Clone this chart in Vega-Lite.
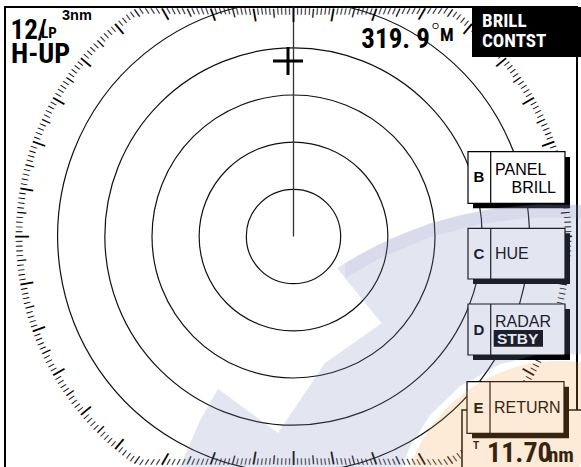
{
"$schema":"https://vega.github.io/schema/vega-lite/v6.json",
"width":581,"height":467,"padding":0,"autosize":{"type":"none"},"background":"white",
"config":{"view":{"stroke":null}},
"datasets":{
"frame":[{"x1":-3.0584,"x2":3.0054,"y1":2.433,"y2":-2.79}],
"rings":[{"r":0.5,"t1":0,"t2":360},{"r":1,"t1":0,"t2":360},{"r":1.5,"t1":0,"t2":360},{"r":2,"t1":0,"t2":360},{"r":2.5,"t1":13.3,"t2":346.7}],
"heading":[{"x":0,"y1":0,"y2":2.433}],
"cursor":[{"x":-0.0583,"y":1.8605}],
"ticks":[{"b":0,"r":2.422},{"b":1,"r":2.422},{"b":2,"r":2.423},{"b":3,"r":2.425},{"b":4,"r":2.428},{"b":5,"r":2.431},{"b":6,"r":2.435},{"b":7,"r":2.44},{"b":8,"r":2.446},{"b":9,"r":2.452},{"b":10,"r":2.459},{"b":11,"r":2.467},{"b":12,"r":2.476},{"b":13,"r":2.486},{"b":14,"r":2.496},{"b":15,"r":2.507},{"b":16,"r":2.52},{"b":17,"r":2.533},{"b":18,"r":2.547},{"b":19,"r":2.562},{"b":20,"r":2.577},{"b":21,"r":2.594},{"b":22,"r":2.612},{"b":23,"r":2.631},{"b":24,"r":2.651},{"b":25,"r":2.672},{"b":26,"r":2.695},{"b":27,"r":2.718},{"b":28,"r":2.743},{"b":29,"r":2.769},{"b":30,"r":2.797},{"b":31,"r":2.826},{"b":32,"r":2.856},{"b":33,"r":2.888},{"b":34,"r":2.921},
{"b":35,"r":2.947},{"b":36,"r":2.947},{"b":37,"r":2.947},{"b":38,"r":2.947},{"b":39,"r":2.947},{"b":40,"r":2.947},{"b":41,"r":2.947},{"b":42,"r":2.947},{"b":43,"r":2.947},{"b":44,"r":2.947},{"b":45,"r":2.947},{"b":46,"r":2.947},{"b":47,"r":2.947},{"b":48,"r":2.947},{"b":49,"r":2.947},{"b":50,"r":2.947},{"b":51,"r":2.947},{"b":52,"r":2.947},{"b":53,"r":2.947},{"b":54,"r":2.947},{"b":55,"r":2.947},{"b":56,"r":2.947},{"b":57,"r":2.947},{"b":58,"r":2.947},{"b":59,"r":2.947},{"b":60,"r":2.947},{"b":61,"r":2.947},{"b":62,"r":2.947},{"b":63,"r":2.947},{"b":64,"r":2.947},{"b":65,"r":2.947},{"b":66,"r":2.947},{"b":67,"r":2.947},{"b":68,"r":2.947},{"b":69,"r":2.947},{"b":70,"r":2.947},{"b":71,"r":2.947},{"b":72,"r":2.947},{"b":73,"r":2.947},{"b":74,"r":2.947},{"b":75,"r":2.947},{"b":76,"r":2.947},{"b":77,"r":2.947},{"b":78,"r":2.947},{"b":79,"r":2.947},{"b":80,"r":2.947},{"b":81,"r":2.947},{"b":82,"r":2.947},{"b":83,"r":2.947},{"b":84,"r":2.947},{"b":85,"r":2.947},{"b":86,"r":2.947},{"b":87,"r":2.947},{"b":88,"r":2.947},{"b":89,"r":2.947},{"b":90,"r":2.947},{"b":91,"r":2.947},{"b":92,"r":2.947},{"b":93,"r":2.947},{"b":94,"r":2.947},{"b":95,"r":2.947},{"b":96,"r":2.947},{"b":97,"r":2.947},{"b":98,"r":2.947},{"b":99,"r":2.947},{"b":100,"r":2.947},{"b":101,"r":2.947},{"b":102,"r":2.947},{"b":103,"r":2.947},{"b":104,"r":2.947},{"b":105,"r":2.947},{"b":106,"r":2.947},{"b":107,"r":2.947},{"b":108,"r":2.947},{"b":109,"r":2.947},{"b":110,"r":2.947},{"b":111,"r":2.947},{"b":112,"r":2.947},{"b":113,"r":2.947},{"b":114,"r":2.947},{"b":115,"r":2.947},{"b":116,"r":2.947},{"b":117,"r":2.947},{"b":118,"r":2.947},{"b":119,"r":2.947},{"b":120,"r":2.947},{"b":121,"r":2.947},{"b":122,"r":2.947},{"b":123,"r":2.947},{"b":124,"r":2.947},{"b":125,"r":2.947},{"b":126,"r":2.947},{"b":127,"r":2.947},{"b":128,"r":2.947},{"b":129,"r":2.947},{"b":130,"r":2.947},{"b":131,"r":2.947},{"b":132,"r":2.947},{"b":133,"r":2.947},{"b":134,"r":2.947},{"b":135,"r":2.947},{"b":136,"r":2.947},{"b":137,"r":2.947},{"b":138,"r":2.947},{"b":139,"r":2.947},{"b":140,"r":2.947},{"b":141,"r":2.947},{"b":142,"r":2.947},{"b":143,"r":2.947},{"b":144,"r":2.947},{"b":145,"r":2.947},
{"b":146,"r":2.921},{"b":147,"r":2.888},{"b":148,"r":2.856},{"b":149,"r":2.826},{"b":150,"r":2.797},{"b":151,"r":2.769},{"b":152,"r":2.743},{"b":153,"r":2.718},{"b":154,"r":2.695},{"b":155,"r":2.672},{"b":156,"r":2.651},{"b":157,"r":2.631},{"b":158,"r":2.612},{"b":159,"r":2.594},{"b":160,"r":2.577},{"b":161,"r":2.562},{"b":162,"r":2.547},{"b":163,"r":2.533},{"b":164,"r":2.52},{"b":165,"r":2.507},{"b":166,"r":2.496},{"b":167,"r":2.486},{"b":168,"r":2.476},{"b":169,"r":2.467},{"b":170,"r":2.459},{"b":171,"r":2.452},{"b":172,"r":2.446},{"b":173,"r":2.44},{"b":174,"r":2.435},{"b":175,"r":2.431},{"b":176,"r":2.428},{"b":177,"r":2.425},{"b":178,"r":2.423},{"b":179,"r":2.422},{"b":180,"r":2.422},{"b":181,"r":2.422},{"b":182,"r":2.423},{"b":183,"r":2.425},{"b":184,"r":2.428},{"b":185,"r":2.431},{"b":186,"r":2.435},{"b":187,"r":2.44},{"b":188,"r":2.446},{"b":189,"r":2.452},{"b":190,"r":2.459},{"b":191,"r":2.467},{"b":192,"r":2.476},{"b":193,"r":2.486},{"b":194,"r":2.496},{"b":195,"r":2.507},{"b":196,"r":2.52},{"b":197,"r":2.533},{"b":198,"r":2.547},{"b":199,"r":2.562},{"b":200,"r":2.577},{"b":201,"r":2.594},{"b":202,"r":2.612},{"b":203,"r":2.631},{"b":204,"r":2.651},{"b":205,"r":2.672},{"b":206,"r":2.695},{"b":207,"r":2.718},{"b":208,"r":2.743},{"b":209,"r":2.769},{"b":210,"r":2.797},{"b":211,"r":2.826},{"b":212,"r":2.856},{"b":213,"r":2.888},{"b":214,"r":2.921},
{"b":215,"r":2.947},{"b":216,"r":2.947},{"b":217,"r":2.947},{"b":218,"r":2.947},{"b":219,"r":2.947},{"b":220,"r":2.947},{"b":221,"r":2.947},{"b":222,"r":2.947},{"b":223,"r":2.947},{"b":224,"r":2.947},{"b":225,"r":2.947},{"b":226,"r":2.947},{"b":227,"r":2.947},{"b":228,"r":2.947},{"b":229,"r":2.947},{"b":230,"r":2.947},{"b":231,"r":2.947},{"b":232,"r":2.947},{"b":233,"r":2.947},{"b":234,"r":2.947},{"b":235,"r":2.947},{"b":236,"r":2.947},{"b":237,"r":2.947},{"b":238,"r":2.947},{"b":239,"r":2.947},{"b":240,"r":2.947},{"b":241,"r":2.947},{"b":242,"r":2.947},{"b":243,"r":2.947},{"b":244,"r":2.947},{"b":245,"r":2.947},{"b":246,"r":2.947},{"b":247,"r":2.947},{"b":248,"r":2.947},{"b":249,"r":2.947},{"b":250,"r":2.947},{"b":251,"r":2.947},{"b":252,"r":2.947},{"b":253,"r":2.947},{"b":254,"r":2.947},{"b":255,"r":2.947},{"b":256,"r":2.947},{"b":257,"r":2.947},{"b":258,"r":2.947},{"b":259,"r":2.947},{"b":260,"r":2.947},{"b":261,"r":2.947},{"b":262,"r":2.947},{"b":263,"r":2.947},{"b":264,"r":2.947},{"b":265,"r":2.947},{"b":266,"r":2.947},{"b":267,"r":2.947},{"b":268,"r":2.947},{"b":269,"r":2.947},{"b":270,"r":2.947},{"b":271,"r":2.947},{"b":272,"r":2.947},{"b":273,"r":2.947},{"b":274,"r":2.947},{"b":275,"r":2.947},{"b":276,"r":2.947},{"b":277,"r":2.947},{"b":278,"r":2.947},{"b":279,"r":2.947},{"b":280,"r":2.947},{"b":281,"r":2.947},{"b":282,"r":2.947},{"b":283,"r":2.947},{"b":284,"r":2.947},{"b":285,"r":2.947},{"b":286,"r":2.947},{"b":287,"r":2.947},{"b":288,"r":2.947},{"b":289,"r":2.947},{"b":290,"r":2.947},{"b":291,"r":2.947},{"b":292,"r":2.947},{"b":293,"r":2.947},{"b":294,"r":2.947},{"b":295,"r":2.947},{"b":296,"r":2.947},{"b":297,"r":2.947},{"b":298,"r":2.947},{"b":299,"r":2.947},{"b":300,"r":2.947},{"b":301,"r":2.947},{"b":302,"r":2.947},{"b":303,"r":2.947},{"b":304,"r":2.947},{"b":305,"r":2.947},{"b":306,"r":2.947},{"b":307,"r":2.947},{"b":308,"r":2.947},{"b":309,"r":2.947},{"b":310,"r":2.947},{"b":311,"r":2.947},{"b":312,"r":2.947},{"b":313,"r":2.947},{"b":314,"r":2.947},{"b":315,"r":2.947},{"b":316,"r":2.947},{"b":317,"r":2.947},{"b":318,"r":2.947},{"b":319,"r":2.947},{"b":320,"r":2.947},{"b":321,"r":2.947},{"b":322,"r":2.947},{"b":323,"r":2.947},{"b":324,"r":2.947},{"b":325,"r":2.947},
{"b":326,"r":2.921},{"b":327,"r":2.888},{"b":328,"r":2.856},{"b":329,"r":2.826},{"b":330,"r":2.797},{"b":331,"r":2.769},{"b":332,"r":2.743},{"b":333,"r":2.718},{"b":334,"r":2.695},{"b":335,"r":2.672},{"b":336,"r":2.651},{"b":337,"r":2.631},{"b":338,"r":2.612},{"b":339,"r":2.594},{"b":340,"r":2.577},{"b":341,"r":2.562},{"b":342,"r":2.547},{"b":343,"r":2.533},{"b":344,"r":2.52},{"b":345,"r":2.507},{"b":346,"r":2.496},{"b":347,"r":2.486},{"b":348,"r":2.476},{"b":349,"r":2.467},{"b":350,"r":2.459},{"b":351,"r":2.452},{"b":352,"r":2.446},{"b":353,"r":2.44},{"b":354,"r":2.435},{"b":355,"r":2.431},{"b":356,"r":2.428},{"b":357,"r":2.425},{"b":358,"r":2.423},{"b":359,"r":2.422}],
"panels":[{"x1":1.7863,"x2":3.2492,"y1":-1.8393,"y2":-2.7934,"k":"range"},
{"x1":1.9029,"x2":2.9312,"y1":0.8428,"y2":0.299,"k":"shadow"},{"x1":1.9029,"x2":2.9312,"y1":0.0339,"y2":-0.5036,"k":"shadow"},{"x1":1.9029,"x2":2.9312,"y1":-0.7686,"y2":-1.3092,"k":"shadow"},{"x1":1.8923,"x2":2.9206,"y1":-1.5923,"y2":-2.1393,"k":"shadow"},
{"x1":1.8499,"x2":2.8782,"y1":0.899,"y2":0.352,"k":"box"},{"x1":1.8499,"x2":2.8782,"y1":0.0869,"y2":-0.4505,"k":"box"},{"x1":1.8499,"x2":2.8782,"y1":-0.7156,"y2":-1.2562,"k":"box"},{"x1":1.8393,"x2":2.8676,"y1":-1.5393,"y2":-2.0863,"k":"box"},
{"x1":1.8923,"x2":3.1432,"y1":2.433,"y2":1.9029,"k":"inv"},{"x1":2.1223,"x2":2.645,"y1":-0.9912,"y2":-1.1682,"k":"inv"}],
"dividers":[{"x":2.0906,"y1":0.899,"y2":0.352},{"x":2.0906,"y1":0.0869,"y2":-0.4505},{"x":2.0906,"y1":-0.7156,"y2":-1.2562},{"x":2.0831,"y1":-1.5393,"y2":-2.0863}],
"labels":[{"t":"12/","x":-3.0001,"y":2.0937,"g":"mode"},{"t":"H-UP","x":-2.9948,"y":1.8393,"g":"mode2"},{"t":"LP","x":-2.7192,"y":2.1043,"g":"sub"},{"t":"3nm","x":-2.4541,"y":2.2952,"g":"rng"},{"t":"319. 9","x":1.447,"y":1.9983,"g":"hdg"},{"t":"O","x":1.4683,"y":2.1997,"g":"deg"},{"t":"M","x":1.5531,"y":2.0725,"g":"mag"},{"t":"BRILL","x":1.9983,"y":2.2209,"g":"inv"},{"t":"CONTST","x":1.9983,"y":2.0089,"g":"inv"},{"t":"STBY","x":2.1573,"y":-1.1396,"g":"invs"},{"t":"B","x":1.9665,"y":0.5778,"g":"key"},{"t":"C","x":1.9665,"y":-0.2385,"g":"key"},{"t":"D","x":1.9665,"y":-1.0442,"g":"key"},{"t":"E","x":1.9612,"y":-1.8711,"g":"key"},{"t":"PANEL","x":2.1361,"y":0.652,"g":"menu"},{"t":"HUE","x":2.1361,"y":-0.2385,"g":"menu"},{"t":"RADAR","x":2.1361,"y":-0.9594,"g":"menu"},{"t":"RETURN","x":2.1255,"y":-1.8711,"g":"menu"},{"t":"BRILL","x":2.7828,"y":0.4611,"g":"menur"},{"t":"11.70","x":2.0513,"y":-2.3906,"g":"dist"},{"t":"nm","x":2.698,"y":-2.3906,"g":"unit"},{"t":"T","x":1.9347,"y":-2.2527,"g":"mark"}],
"wmBlue":[{"x":-1.3092,"y":-2.787,"y2":-3.0054,"p":"A"},{"x":-1.2032,"y":-2.4436,"y2":-3.0054,"p":"A"},{"x":-0.9912,"y":-1.9506,"y2":-3.0054,"p":"A"},{"x":-0.8004,"y":-1.6146,"y2":-3.0054,"p":"A"},{"x":-0.1643,"y":-2.0831,"y2":-3.0054,"p":"A"},{"x":0.3339,"y":-1.341,"y2":-3.0054,"p":"A"},{"x":0.934,"y":-0.9202,"y2":-3.0054,"p":"A"},{"x":0.9361,"y":-0.0753,"y2":-3.0054,"p":"A"},{"x":1.023,"y":-0.0276,"y2":-3.0054,"p":"A"},{"x":1.129,"y":0.018,"y2":-2.4987,"p":"A"},{"x":1.235,"y":0.0615,"y2":-2.2273,"p":"A"},{"x":1.447,"y":0.1368,"y2":-1.8944,"p":"A"},{"x":1.7651,"y":0.2269,"y2":-1.588,"p":"A"},{"x":2.1891,"y":0.3064,"y2":-1.3538,"p":"A"},{"x":2.6132,"y":0.3424,"y2":-1.2478,"p":"A"},{"x":3.0478,"y":0.3339,"y2":-1.2488,"p":"A"},{"x":3.4613,"y":0.2841,"y2":-1.3538,"p":"A"},
{"x":0.4611,"y":-0.335,"y2":-0.335,"p":"B"},{"x":0.705,"y":-0.1876,"y2":-0.6361,"p":"B"},{"x":0.935,"y":-0.0689,"y2":-0.9202,"p":"B"}],
"wmRim":[{"x":0.546,"y":-0.2809,"y2":-0.4442},{"x":0.917,"y":-0.0774,"y2":-0.2311},{"x":1.447,"y":0.1368,"y2":-0.0085},{"x":1.9877,"y":0.2746,"y2":0.1346},{"x":2.5072,"y":0.3371,"y2":0.1993},{"x":3.0478,"y":0.3339,"y2":0.1961},{"x":3.4613,"y":0.2841,"y2":0.1442}],
"wmOrange":[{"cx":2.8252,"cy":-3.0054,"r1":0,"r2":1.6856,"t1":-95,"t2":20}]
},
"resolve":{"scale":{"radius":"independent"}},
"layer":[
{"data":{"name":"frame"},"mark":{"type":"rect","filled":false,"stroke":"black","strokeWidth":2},
 "encoding":{"x":{"field":"x1","type":"quantitative","scale":{"domain":[-3.1114,3.0478],"nice":false,"zero":false},"axis":null},"x2":{"field":"x2"},"y":{"field":"y1","type":"quantitative","scale":{"domain":[-2.4436,2.5072],"nice":false,"zero":false},"axis":null},"y2":{"field":"y2"}}},
{"data":{"name":"rings"},"mark":{"type":"arc","filled":false,"stroke":"#111111","strokeWidth":1.2},
 "encoding":{"x":{"datum":0,"type":"quantitative","scale":{"domain":[-3.1114,3.0478],"nice":false,"zero":false},"axis":null},"y":{"datum":0,"type":"quantitative","scale":{"domain":[-2.4436,2.5072],"nice":false,"zero":false},"axis":null},
 "theta":{"field":"t1","type":"quantitative","scale":{"domain":[0,360],"range":[0,6.283185307179586]}},"theta2":{"field":"t2"},
 "radius":{"field":"r","type":"quantitative","scale":{"type":"linear","domain":[0,3],"range":[0,283],"zero":false,"nice":false}},"radius2":{"field":"r"}}},
{"data":{"name":"heading"},"mark":{"type":"rule","color":"#333333","strokeWidth":1.3},
 "encoding":{"x":{"field":"x","type":"quantitative","scale":{"domain":[-3.1114,3.0478],"nice":false,"zero":false},"axis":null},"y":{"field":"y1","type":"quantitative","scale":{"domain":[-2.4436,2.5072],"nice":false,"zero":false},"axis":null},"y2":{"field":"y2"}}},
{"data":{"name":"ticks"},"transform":[{"filter":"datum.b % 10 == 0"}],"mark":{"type":"text","text":"|","font":"Liberation Sans","fontWeight":"bold","fontSize":13.8,"align":"center","baseline":"middle","color":"black"},
 "encoding":{"x":{"datum":0,"type":"quantitative","scale":{"domain":[-3.1114,3.0478],"nice":false,"zero":false},"axis":null},"y":{"datum":0,"type":"quantitative","scale":{"domain":[-2.4436,2.5072],"nice":false,"zero":false},"axis":null},
 "theta":{"field":"b","type":"quantitative","scale":{"domain":[0,360],"range":[0,6.283185307179586]}},
 "radius":{"field":"r","type":"quantitative","scale":{"type":"linear","domain":[0,3],"range":[-6.5,276.5],"zero":false,"nice":false}},
 "angle":{"field":"b","type":"quantitative","scale":{"domain":[0,360],"range":[0,360]}}}},
{"data":{"name":"ticks"},"transform":[{"filter":"datum.b % 10 == 5"}],"mark":{"type":"text","text":"|","font":"Liberation Sans","fontWeight":"bold","fontSize":9.6,"align":"center","baseline":"middle","color":"black"},
 "encoding":{"x":{"datum":0,"type":"quantitative","scale":{"domain":[-3.1114,3.0478],"nice":false,"zero":false},"axis":null},"y":{"datum":0,"type":"quantitative","scale":{"domain":[-2.4436,2.5072],"nice":false,"zero":false},"axis":null},
 "theta":{"field":"b","type":"quantitative","scale":{"domain":[0,360],"range":[0,6.283185307179586]}},
 "radius":{"field":"r","type":"quantitative","scale":{"type":"linear","domain":[0,3],"range":[-4.5,278.5],"zero":false,"nice":false}},
 "angle":{"field":"b","type":"quantitative","scale":{"domain":[0,360],"range":[0,360]}}}},
{"data":{"name":"ticks"},"transform":[{"filter":"datum.b % 5 != 0"}],"mark":{"type":"text","text":"|","font":"Liberation Sans","fontWeight":"bold","fontSize":7,"align":"center","baseline":"middle","color":"black"},
 "encoding":{"x":{"datum":0,"type":"quantitative","scale":{"domain":[-3.1114,3.0478],"nice":false,"zero":false},"axis":null},"y":{"datum":0,"type":"quantitative","scale":{"domain":[-2.4436,2.5072],"nice":false,"zero":false},"axis":null},
 "theta":{"field":"b","type":"quantitative","scale":{"domain":[0,360],"range":[0,6.283185307179586]}},
 "radius":{"field":"r","type":"quantitative","scale":{"type":"linear","domain":[0,3],"range":[-3.25,279.75],"zero":false,"nice":false}},
 "angle":{"field":"b","type":"quantitative","scale":{"domain":[0,360],"range":[0,360]}}}},
{"data":{"name":"cursor"},"mark":{"type":"point","shape":"M-1,0H1M0,-0.93V0.93","size":900,"filled":false,"color":"black","strokeWidth":3,"opacity":1},
 "encoding":{"x":{"field":"x","type":"quantitative","scale":{"domain":[-3.1114,3.0478],"nice":false,"zero":false},"axis":null},"y":{"field":"y","type":"quantitative","scale":{"domain":[-2.4436,2.5072],"nice":false,"zero":false},"axis":null}}},
{"data":{"name":"panels"},"transform":[{"filter":"datum.k == 'range'"}],"mark":{"type":"rect","fill":"white","stroke":"black","strokeWidth":1.5},
 "encoding":{"x":{"field":"x1","type":"quantitative","scale":{"domain":[-3.1114,3.0478],"nice":false,"zero":false},"axis":null},"x2":{"field":"x2"},"y":{"field":"y1","type":"quantitative","scale":{"domain":[-2.4436,2.5072],"nice":false,"zero":false},"axis":null},"y2":{"field":"y2"}}},
{"data":{"name":"panels"},"transform":[{"filter":"datum.k == 'shadow'"}],"mark":{"type":"rect","fill":"black"},
 "encoding":{"x":{"field":"x1","type":"quantitative","scale":{"domain":[-3.1114,3.0478],"nice":false,"zero":false},"axis":null},"x2":{"field":"x2"},"y":{"field":"y1","type":"quantitative","scale":{"domain":[-2.4436,2.5072],"nice":false,"zero":false},"axis":null},"y2":{"field":"y2"}}},
{"data":{"name":"panels"},"transform":[{"filter":"datum.k == 'box'"}],"mark":{"type":"rect","fill":"white","stroke":"black","strokeWidth":1.2},
 "encoding":{"x":{"field":"x1","type":"quantitative","scale":{"domain":[-3.1114,3.0478],"nice":false,"zero":false},"axis":null},"x2":{"field":"x2"},"y":{"field":"y1","type":"quantitative","scale":{"domain":[-2.4436,2.5072],"nice":false,"zero":false},"axis":null},"y2":{"field":"y2"}}},
{"data":{"name":"dividers"},"mark":{"type":"rule","color":"black","strokeWidth":1.2},
 "encoding":{"x":{"field":"x","type":"quantitative","scale":{"domain":[-3.1114,3.0478],"nice":false,"zero":false},"axis":null},"y":{"field":"y1","type":"quantitative","scale":{"domain":[-2.4436,2.5072],"nice":false,"zero":false},"axis":null},"y2":{"field":"y2"}}},
{"data":{"name":"panels"},"transform":[{"filter":"datum.k == 'inv'"}],"mark":{"type":"rect","fill":"black"},
 "encoding":{"x":{"field":"x1","type":"quantitative","scale":{"domain":[-3.1114,3.0478],"nice":false,"zero":false},"axis":null},"x2":{"field":"x2"},"y":{"field":"y1","type":"quantitative","scale":{"domain":[-2.4436,2.5072],"nice":false,"zero":false},"axis":null},"y2":{"field":"y2"}}},
{"data":{"name":"labels"},"transform":[{"filter":"datum.g == 'mode'"}],"mark":{"type":"text","font":"Roboto Condensed, Liberation Sans Narrow, DejaVu Sans Condensed, sans-serif","fontWeight":"bold","fontSize":27,"align":"left","baseline":"alphabetic","color":"black"},
 "encoding":{"x":{"field":"x","type":"quantitative","scale":{"domain":[-3.1114,3.0478],"nice":false,"zero":false},"axis":null},"y":{"field":"y","type":"quantitative","scale":{"domain":[-2.4436,2.5072],"nice":false,"zero":false},"axis":null},"text":{"field":"t"}}},
{"data":{"name":"labels"},"transform":[{"filter":"datum.g == 'mode2'"}],"mark":{"type":"text","font":"Roboto Condensed, Liberation Sans Narrow, DejaVu Sans Condensed, sans-serif","fontWeight":"bold","fontSize":28,"align":"left","baseline":"alphabetic","color":"black"},
 "encoding":{"x":{"field":"x","type":"quantitative","scale":{"domain":[-3.1114,3.0478],"nice":false,"zero":false},"axis":null},"y":{"field":"y","type":"quantitative","scale":{"domain":[-2.4436,2.5072],"nice":false,"zero":false},"axis":null},"text":{"field":"t"}}},
{"data":{"name":"labels"},"transform":[{"filter":"datum.g == 'sub'"}],"mark":{"type":"text","font":"Roboto Condensed, Liberation Sans Narrow, DejaVu Sans Condensed, sans-serif","fontWeight":"bold","fontSize":15,"align":"left","baseline":"alphabetic","color":"black","dx":4},
 "encoding":{"x":{"field":"x","type":"quantitative","scale":{"domain":[-3.1114,3.0478],"nice":false,"zero":false},"axis":null},"y":{"field":"y","type":"quantitative","scale":{"domain":[-2.4436,2.5072],"nice":false,"zero":false},"axis":null},"text":{"field":"t"}}},
{"data":{"name":"labels"},"transform":[{"filter":"datum.g == 'rng'"}],"mark":{"type":"text","font":"Liberation Sans","fontWeight":"bold","fontSize":14.5,"align":"left","baseline":"alphabetic","color":"black"},
 "encoding":{"x":{"field":"x","type":"quantitative","scale":{"domain":[-3.1114,3.0478],"nice":false,"zero":false},"axis":null},"y":{"field":"y","type":"quantitative","scale":{"domain":[-2.4436,2.5072],"nice":false,"zero":false},"axis":null},"text":{"field":"t"}}},
{"data":{"name":"labels"},"transform":[{"filter":"datum.g == 'hdg'"}],"mark":{"type":"text","font":"Roboto Condensed, Liberation Sans Narrow, DejaVu Sans Condensed, sans-serif","fontWeight":"bold","fontSize":27,"align":"right","baseline":"alphabetic","color":"black"},
 "encoding":{"x":{"field":"x","type":"quantitative","scale":{"domain":[-3.1114,3.0478],"nice":false,"zero":false},"axis":null},"y":{"field":"y","type":"quantitative","scale":{"domain":[-2.4436,2.5072],"nice":false,"zero":false},"axis":null},"text":{"field":"t"}}},
{"data":{"name":"labels"},"transform":[{"filter":"datum.g == 'deg'"}],"mark":{"type":"text","font":"Liberation Sans","fontSize":9,"align":"left","baseline":"alphabetic","color":"black"},
 "encoding":{"x":{"field":"x","type":"quantitative","scale":{"domain":[-3.1114,3.0478],"nice":false,"zero":false},"axis":null},"y":{"field":"y","type":"quantitative","scale":{"domain":[-2.4436,2.5072],"nice":false,"zero":false},"axis":null},"text":{"field":"t"}}},
{"data":{"name":"labels"},"transform":[{"filter":"datum.g == 'mag'"}],"mark":{"type":"text","font":"Roboto Condensed, Liberation Sans Narrow, DejaVu Sans Condensed, sans-serif","fontWeight":"bold","fontSize":18,"align":"left","baseline":"alphabetic","color":"black"},
 "encoding":{"x":{"field":"x","type":"quantitative","scale":{"domain":[-3.1114,3.0478],"nice":false,"zero":false},"axis":null},"y":{"field":"y","type":"quantitative","scale":{"domain":[-2.4436,2.5072],"nice":false,"zero":false},"axis":null},"text":{"field":"t"}}},
{"data":{"name":"labels"},"transform":[{"filter":"datum.g == 'inv'"}],"mark":{"type":"text","font":"Roboto Condensed, Liberation Sans Narrow, DejaVu Sans Condensed, sans-serif","fontWeight":"bold","fontSize":19,"align":"left","baseline":"alphabetic","color":"white"},
 "encoding":{"x":{"field":"x","type":"quantitative","scale":{"domain":[-3.1114,3.0478],"nice":false,"zero":false},"axis":null},"y":{"field":"y","type":"quantitative","scale":{"domain":[-2.4436,2.5072],"nice":false,"zero":false},"axis":null},"text":{"field":"t"}}},
{"data":{"name":"labels"},"transform":[{"filter":"datum.g == 'invs'"}],"mark":{"type":"text","font":"Liberation Sans","fontWeight":"bold","fontSize":15.5,"align":"left","baseline":"alphabetic","color":"white"},
 "encoding":{"x":{"field":"x","type":"quantitative","scale":{"domain":[-3.1114,3.0478],"nice":false,"zero":false},"axis":null},"y":{"field":"y","type":"quantitative","scale":{"domain":[-2.4436,2.5072],"nice":false,"zero":false},"axis":null},"text":{"field":"t"}}},
{"data":{"name":"labels"},"transform":[{"filter":"datum.g == 'key'"}],"mark":{"type":"text","font":"Liberation Sans","fontWeight":"bold","fontSize":15,"align":"center","baseline":"alphabetic","color":"black"},
 "encoding":{"x":{"field":"x","type":"quantitative","scale":{"domain":[-3.1114,3.0478],"nice":false,"zero":false},"axis":null},"y":{"field":"y","type":"quantitative","scale":{"domain":[-2.4436,2.5072],"nice":false,"zero":false},"axis":null},"text":{"field":"t"}}},
{"data":{"name":"labels"},"transform":[{"filter":"datum.g == 'menu'"}],"mark":{"type":"text","font":"Liberation Sans","fontSize":16,"align":"left","baseline":"alphabetic","color":"black"},
 "encoding":{"x":{"field":"x","type":"quantitative","scale":{"domain":[-3.1114,3.0478],"nice":false,"zero":false},"axis":null},"y":{"field":"y","type":"quantitative","scale":{"domain":[-2.4436,2.5072],"nice":false,"zero":false},"axis":null},"text":{"field":"t"}}},
{"data":{"name":"labels"},"transform":[{"filter":"datum.g == 'menur'"}],"mark":{"type":"text","font":"Liberation Sans","fontSize":16,"align":"right","baseline":"alphabetic","color":"black"},
 "encoding":{"x":{"field":"x","type":"quantitative","scale":{"domain":[-3.1114,3.0478],"nice":false,"zero":false},"axis":null},"y":{"field":"y","type":"quantitative","scale":{"domain":[-2.4436,2.5072],"nice":false,"zero":false},"axis":null},"text":{"field":"t"}}},
{"data":{"name":"labels"},"transform":[{"filter":"datum.g == 'dist'"}],"mark":{"type":"text","font":"Roboto Condensed, Liberation Sans Narrow, DejaVu Sans Condensed, sans-serif","fontWeight":"bold","fontSize":28,"align":"left","baseline":"alphabetic","color":"black"},
 "encoding":{"x":{"field":"x","type":"quantitative","scale":{"domain":[-3.1114,3.0478],"nice":false,"zero":false},"axis":null},"y":{"field":"y","type":"quantitative","scale":{"domain":[-2.4436,2.5072],"nice":false,"zero":false},"axis":null},"text":{"field":"t"}}},
{"data":{"name":"labels"},"transform":[{"filter":"datum.g == 'unit'"}],"mark":{"type":"text","font":"Roboto Condensed, Liberation Sans Narrow, DejaVu Sans Condensed, sans-serif","fontWeight":"bold","fontSize":21,"align":"left","baseline":"alphabetic","color":"black"},
 "encoding":{"x":{"field":"x","type":"quantitative","scale":{"domain":[-3.1114,3.0478],"nice":false,"zero":false},"axis":null},"y":{"field":"y","type":"quantitative","scale":{"domain":[-2.4436,2.5072],"nice":false,"zero":false},"axis":null},"text":{"field":"t"}}},
{"data":{"name":"labels"},"transform":[{"filter":"datum.g == 'mark'"}],"mark":{"type":"text","font":"Liberation Sans","fontWeight":"bold","fontSize":10,"align":"center","baseline":"alphabetic","color":"black"},
 "encoding":{"x":{"field":"x","type":"quantitative","scale":{"domain":[-3.1114,3.0478],"nice":false,"zero":false},"axis":null},"y":{"field":"y","type":"quantitative","scale":{"domain":[-2.4436,2.5072],"nice":false,"zero":false},"axis":null},"text":{"field":"t"}}},
{"data":{"name":"wmBlue"},"mark":{"type":"area","opacity":0.22,"color":"#7f8fbf","interpolate":"linear"},
 "encoding":{"x":{"field":"x","type":"quantitative","scale":{"domain":[-3.1114,3.0478],"nice":false,"zero":false},"axis":null},"y":{"field":"y","type":"quantitative","scale":{"domain":[-2.4436,2.5072],"nice":false,"zero":false},"axis":null},"y2":{"field":"y2"},"detail":{"field":"p","type":"nominal"}}},
{"data":{"name":"wmRim"},"mark":{"type":"area","opacity":0.1,"color":"#8a80c0","interpolate":"linear"},
 "encoding":{"x":{"field":"x","type":"quantitative","scale":{"domain":[-3.1114,3.0478],"nice":false,"zero":false},"axis":null},"y":{"field":"y","type":"quantitative","scale":{"domain":[-2.4436,2.5072],"nice":false,"zero":false},"axis":null},"y2":{"field":"y2"}}},
{"data":{"name":"wmOrange"},"mark":{"type":"arc","opacity":0.22,"color":"#f5a04a","stroke":null},
 "encoding":{"x":{"field":"cx","type":"quantitative","scale":{"domain":[-3.1114,3.0478],"nice":false,"zero":false},"axis":null},"y":{"field":"cy","type":"quantitative","scale":{"domain":[-2.4436,2.5072],"nice":false,"zero":false},"axis":null},
 "theta":{"field":"t1","type":"quantitative","scale":{"domain":[0,360],"range":[0,6.283185307179586]}},"theta2":{"field":"t2"},
 "radius":{"field":"r2","type":"quantitative","scale":{"type":"linear","domain":[0,3],"range":[0,283],"zero":false,"nice":false}},"radius2":{"field":"r1"}}}
]
}
